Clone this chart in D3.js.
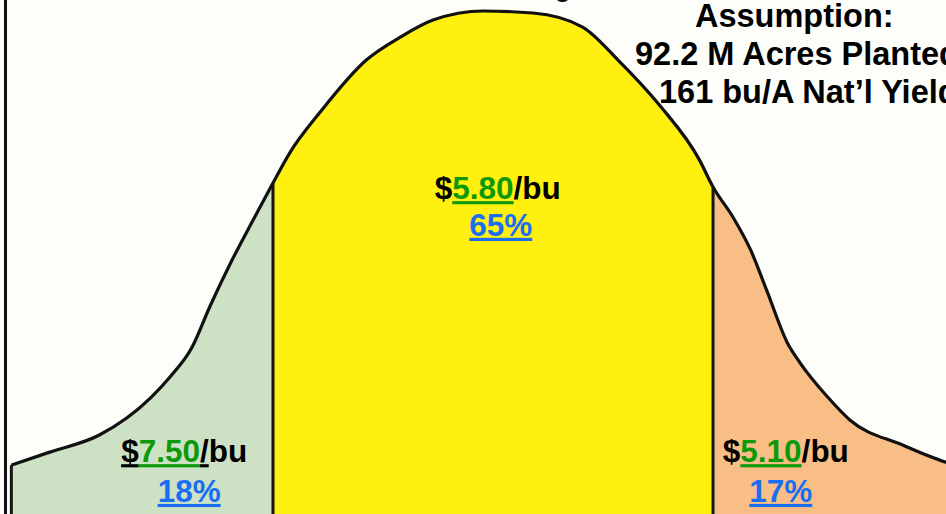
<!DOCTYPE html>
<html>
<head>
<meta charset="utf-8">
<script src="https://cdn.jsdelivr.net/npm/d3@7"></script>
<style>
  html, body { margin: 0; padding: 0; background: #fdfdfa; }
  svg { display: block; }
  text { font-family: "Liberation Sans", Arial, sans-serif; font-weight: bold; }
</style>
</head>
<body>
<div id="chart"></div>
<script>
// curve: x in std-dev units, y as share of peak height
const curveX = [-3.01, -2.77, -2.46, -2.14, -2.02, -1.88, -1.77, -1.64, -1.5, -1.375, -1.27, -1.08,
  -0.79, -0.58, -0.375, -0.06, 0.25, 0.56, 0.78, 1.04, 1.29, 1.375, 1.5, 1.61, 1.71, 1.84, 1.92,
  2.09, 2.23, 2.56, 2.83, 3.05];
const curveY = [0.097, 0.123, 0.157, 0.231, 0.272, 0.332, 0.412, 0.499, 0.584, 0.658, 0.718, 0.799,
  0.903, 0.948, 0.982, 1.0, 0.996, 0.968, 0.903, 0.813, 0.704, 0.65, 0.59, 0.525, 0.445, 0.34, 0.3,
  0.233, 0.187, 0.137, 0.103, 0.087];

// region edges (std-dev units)
const regionEdges = [-3.01, -1.375, 1.375, 3.05];
const prices = ['7.50', '5.80', '5.10'];
const chances = [18, 65, 17];

const assumptionLines = ['Assumption:', '92.2 M Acres Planted', '161 bu/A Nat\u2019l Yield'];

const width = 946, height = 514;
const regionFill = ['#cde2c4', '#fff010', '#f9be85'];
const green = '#0a9a0a', blue = '#1a6ef2';

// label placement: [x center (std units), price baseline (share of peak), percent baseline]
const labelPos = [[-1.93, 0.103, 0.024], [0.03, 0.626, 0.553], [1.83, 0.103, 0.024]];

const pts = curveX.map((x, i) => ({ x: x, y: curveY[i] }));

const x = d3.scaleLinear().domain([-3.081, 2.831]).range([0, width]);
const y = d3.scaleLinear().domain([0, 1]).range([height, 11]);

const svg = d3.select('#chart').append('svg')
  .attr('width', width)
  .attr('height', height);

svg.append('rect').attr('width', width).attr('height', height).attr('fill', '#fdfdfa');

// title sits mostly above the frame, only a descender shows
svg.append('text')
  .attr('x', 585).attr('y', -3)
  .attr('text-anchor', 'end')
  .attr('font-size', 26)
  .attr('fill', '#111')
  .text('Price Range');

const defs = svg.append('defs');
const area = d3.area()
  .x(d => x(d.x))
  .y0(height)
  .y1(d => y(d.y))
  .curve(d3.curveMonotoneX);
const line = d3.line()
  .x(d => x(d.x))
  .y(d => y(d.y))
  .curve(d3.curveMonotoneX);

regionFill.forEach((c, i) => {
  defs.append('clipPath').attr('id', 'clip' + i)
    .append('rect')
    .attr('x', x(regionEdges[i]))
    .attr('y', 0)
    .attr('width', x(regionEdges[i + 1]) - x(regionEdges[i]))
    .attr('height', height);
  svg.append('path')
    .datum(pts)
    .attr('clip-path', `url(#clip${i})`)
    .attr('fill', c)
    .attr('d', area);
});

// vertical edges of the regions
const edgeY = e => {
  const p = pts.find(d => Math.abs(d.x - e) < 1e-6);
  return p ? p.y : 0;
};
svg.selectAll('line.edge')
  .data(regionEdges.slice(0, 3))
  .enter().append('line')
  .attr('class', 'edge')
  .attr('x1', d => x(d)).attr('x2', d => x(d))
  .attr('y1', d => y(edgeY(d)))
  .attr('y2', height)
  .attr('stroke', '#151515')
  .attr('stroke-width', 3);

svg.append('path')
  .datum(pts)
  .attr('fill', 'none')
  .attr('stroke', '#111')
  .attr('stroke-width', 3.2)
  .attr('stroke-linejoin', 'round')
  .attr('d', line);

// slide frame on the left
svg.append('line')
  .attr('x1', 5.5).attr('x2', 5.5)
  .attr('y1', 0).attr('y2', height)
  .attr('stroke', '#111')
  .attr('stroke-width', 3);

// price and probability labels
const fs = 31.5;
prices.forEach((p, i) => {
  const [cx, py, qy] = labelPos[i];
  const t = svg.append('text')
    .attr('x', x(cx)).attr('y', y(py))
    .attr('text-anchor', 'middle')
    .attr('font-size', fs)
    .attr('fill', '#000');
  const ulAll = i === 0;
  t.append('tspan').text('$')
    .style('text-decoration', ulAll ? 'underline' : 'none');
  t.append('tspan').text(p)
    .attr('fill', green)
    .style('text-decoration', 'underline');
  t.append('tspan').text('/')
    .style('text-decoration', ulAll ? 'underline' : 'none');
  t.append('tspan').text('bu');

  svg.append('text')
    .attr('x', x(cx) + (i === 0 ? 5 : i === 1 ? 3 : -5)).attr('y', y(qy))
    .attr('text-anchor', 'middle')
    .attr('font-size', fs)
    .attr('fill', blue)
    .style('text-decoration', 'underline')
    .text(chances[i] + '%');
});

// assumption block, upper right
const lineStart = [695, 635, 659];
const lineBase = [27, 65, 103];
svg.selectAll('text.assume')
  .data(assumptionLines)
  .enter().append('text')
  .attr('class', 'assume')
  .attr('x', (d, i) => lineStart[i])
  .attr('y', (d, i) => lineBase[i])
  .attr('font-size', 32.5)
  .attr('fill', '#000')
  .text(d => d);
</script>
</body>
</html>
